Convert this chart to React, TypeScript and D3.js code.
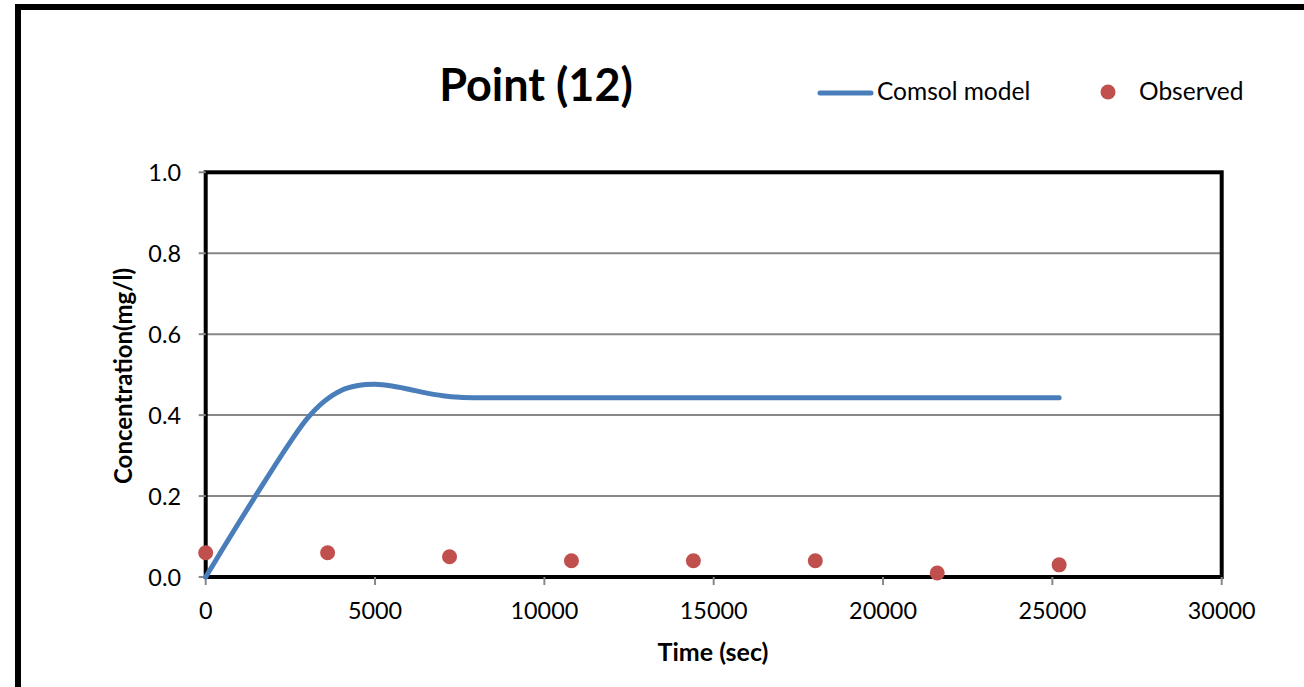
import React from "react";
import * as d3 from "d3";

const modelTime = [0, 500, 1000, 1500, 2000, 2500, 3000, 3500, 4000, 4500, 5000, 5500, 6000, 6500, 7000, 7500, 8000, 10000, 15000, 20000, 25200];
const modelConc = [0, 0.069, 0.137, 0.204, 0.27, 0.334, 0.392, 0.434, 0.461, 0.473, 0.476, 0.472, 0.464, 0.455, 0.448, 0.444, 0.443, 0.443, 0.443, 0.443, 0.443];
const obsTime = [0, 3600, 7200, 10800, 14400, 18000, 21600, 25200];
const obsConc = [0.06, 0.06, 0.05, 0.04, 0.04, 0.04, 0.01, 0.03];
const xTicks = [0, 5000, 10000, 15000, 20000, 25000, 30000];
const yTicks = [0, 0.2, 0.4, 0.6, 0.8, 1.0];

const FONT = "Lato, 'Open Sans', sans-serif";

export default function App() {
  const left = 205.7, right = 1221.7, top = 172.3, bottom = 577;
  const x = d3.scaleLinear().domain([0, 30000]).range([left, right]);
  const y = d3.scaleLinear().domain([0, 1]).range([bottom, top]);
  const line = d3
    .line<number>()
    .x((_, i) => x(modelTime[i]))
    .y((d) => y(d))
    .curve(d3.curveCatmullRom.alpha(0.5));
  const blue = "#4a7ebb";
  const red = "#c0504d";
  return (
    <svg width={1304} height={687} style={{ position: "absolute", left: 0, top: 0, background: "#fff" }}>
      <rect x={18} y={7} width={1400} height={800} fill="#fff" stroke="#000" strokeWidth={6} />
      <text x={536} y={101} textAnchor="middle" fontFamily={FONT} fontWeight="bold" fontSize={45}>
        Point (12)
      </text>
      {/* legend */}
      <line x1={820} x2={871} y1={93} y2={93} stroke={blue} strokeWidth={5} strokeLinecap="round" />
      <text x={877} y={100} fontFamily={FONT} fontSize={24.5}>Comsol model</text>
      <circle cx={1108} cy={92} r={7.5} fill={red} />
      <text x={1139} y={100} fontFamily={FONT} fontSize={24.5}>Observed</text>
      {/* gridlines */}
      {yTicks.slice(1, -1).map((t) => (
        <line key={t} x1={left} x2={right} y1={y(t)} y2={y(t)} stroke="#888" strokeWidth={2} />
      ))}
      {/* plot border */}
      <rect x={left} y={top} width={right - left} height={bottom - top} fill="none" stroke="#000" strokeWidth={4} />
      {/* y ticks */}
      {yTicks.map((t) => (
        <g key={t}>
          <line x1={left - 7} x2={left} y1={y(t)} y2={y(t)} stroke="#888" strokeWidth={2} />
          <text x={181} y={y(t) + 8.5} textAnchor="end" fontFamily={FONT} fontSize={23.4}>
            {t.toFixed(1)}
          </text>
        </g>
      ))}
      {xTicks.map((t) => (
        <g key={t}>
          <line x1={x(t)} x2={x(t)} y1={bottom} y2={bottom + 8} stroke="#888" strokeWidth={2} />
          <text x={x(t)} y={619} textAnchor="middle" fontFamily={FONT} fontSize={23.4}>
            {t}
          </text>
        </g>
      ))}
      <text x={713} y={661} textAnchor="middle" fontFamily={FONT} fontWeight="bold" fontSize={25}>
        Time (sec)
      </text>
      <text
        transform={`translate(132, 376) rotate(-90)`}
        textAnchor="middle"
        fontFamily={FONT}
        fontWeight="bold"
        fontSize={24}
      >
        Concentration(mg/l)
      </text>
      <path d={line(modelConc) || ""} fill="none" stroke={blue} strokeWidth={5} strokeLinecap="round" />
      {obsTime.map((t, i) => (
        <circle key={t} cx={x(t)} cy={y(obsConc[i])} r={7.5} fill={red} />
      ))}
    </svg>
  );
}
